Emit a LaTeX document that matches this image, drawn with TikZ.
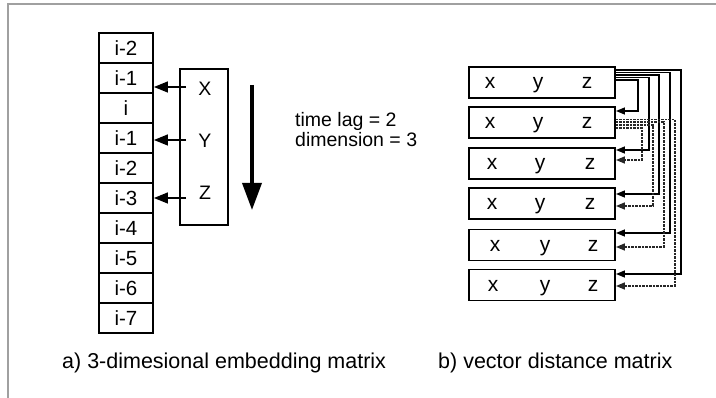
\documentclass[tikz,border=0pt]{standalone}
\usepackage{fontspec}
\setmainfont{Liberation Sans}
\usetikzlibrary{arrows.meta}
\definecolor{framegray}{HTML}{A0A0A0}
\begin{document}
\begin{tikzpicture}[x=1pt,y=-1pt,
  cell/.style={draw, line width=1.9pt, minimum width=54pt, minimum height=30pt, inner sep=0pt, font=\fontsize{20.5}{24}\selectfont},
  embbox/.style={draw, line width=1.6pt, minimum width=48pt, minimum height=156pt, inner sep=0pt},
  biglbl/.style={inner sep=0pt, font=\fontsize{19.5}{22}\selectfont},
  leftarr/.style={line width=1.4pt, -{Triangle[length=14pt,width=11pt]}},
  rbox/.style={draw, line width=1.9pt, minimum width=146pt, minimum height=31pt, inner sep=0pt},
  xyz/.style={inner sep=0pt, anchor=base, font=\fontsize{21}{24}\selectfont},
  conn/.style={line width=1.4pt, -{Triangle[length=9pt,width=7pt]}},
  dconn/.style={conn, draw=black!85, line width=1.6pt, dash pattern=on 2.5pt off 1pt},
  captext/.style={inner sep=0pt, anchor=base west, font=\fontsize{21.5}{26}\selectfont}
]
\useasboundingbox (0,0) rectangle (716,398);
\draw[framegray, line width=1.3pt] (8,398) -- (8,4) -- (716,4);

% left column
\foreach \t [count=\k] in {i-2,i-1,i,i-1,i-2,i-3,i-4,i-5,i-6,i-7}
  \node[cell] (c\k) at (126, 18+30*\k) {\t};

% embedding box
\node[embbox] (emb) at (204,147) {};
\node[biglbl] (X) at (205,89) {X};
\node[biglbl] (Y) at (205,141) {Y};
\node[biglbl] (Z) at (205,193) {Z};
\coordinate (ax) at (186,87);
\coordinate (ay) at (186,140);
\coordinate (az) at (186,198);
\draw[leftarr] (ax) -- (ax -| c2.east);
\draw[leftarr] (ay) -- (ay -| c4.east);
\draw[leftarr] (az) -- (az -| c6.east);

% big arrow
\coordinate (bt) at (252,85);
\coordinate (bb) at (252,210);
\draw[line width=3.6pt, -{Triangle[length=27pt,width=19pt]}] (bt) -- (bb);

\node[biglbl, anchor=base west] (tl) at (295,126.7) {time lag = 2};
\node[biglbl, anchor=base west] (dim) at (295,146.7) {dimension = 3};

% right boxes
\node[rbox] (r1) at (542,82.5) {};
\node[rbox] (r2) at (542,122.5) {};
\node[rbox] (r3) at (542,163.5) {};
\node[rbox] (r4) at (542,203.5) {};
\node[rbox] (r5) at (542,245) {};
\node[rbox] (r6) at (542,285) {};

\foreach \r/\a/\b/\c in {r1/-52/-4/45, r2/-52/-4/45, r3/-50/-2/48, r4/-50/-2/48, r5/-47/3/51, r6/-49/3/51}{
  \node[xyz] (\r x) at ([xshift=\a pt, yshift=-6.5pt]\r.center) {x};
  \node[xyz] (\r y) at ([xshift=\b pt, yshift=-6.5pt]\r.center) {y};
  \node[xyz] (\r z) at ([xshift=\c pt, yshift=-6.5pt]\r.center) {z};
}

% solid connectors from r1
\draw[conn] ([yshift=12.5pt]r1.east) -| ([xshift=65pt,yshift=11pt]r6.east) -- ([yshift=11pt]r6.east);
\draw[conn] ([yshift=10pt]r1.east) -| ([xshift=54pt,yshift=12pt]r5.east) -- ([yshift=12pt]r5.east);
\draw[conn] ([yshift=7.5pt]r1.east) -| ([xshift=43pt,yshift=9.5pt]r4.east) -- ([yshift=9.5pt]r4.east);
\draw[conn] ([yshift=5pt]r1.east) -| ([xshift=33pt,yshift=13.5pt]r3.east) -- ([yshift=13.5pt]r3.east);
\draw[conn] ([yshift=2.5pt]r1.east) -| ([xshift=22pt,yshift=11.5pt]r2.east) -- ([yshift=11.5pt]r2.east);

% dashed connectors from r2
\draw[dconn] ([yshift=3pt]r2.east) -| ([xshift=59pt,yshift=-1pt]r6.east) -- ([yshift=-1pt]r6.east);
\draw[dconn] ([yshift=0.5pt]r2.east) -| ([xshift=48pt,yshift=-2pt]r5.east) -- ([yshift=-2pt]r5.east);
\draw[dconn] ([yshift=-2.5pt]r2.east) -| ([xshift=37pt,yshift=-2.5pt]r4.east) -- ([yshift=-2.5pt]r4.east);
\draw[dconn] ([yshift=-5.5pt]r2.east) -| ([xshift=26pt,yshift=3.5pt]r3.east) -- ([yshift=3.5pt]r3.east);

% captions
\node[captext] (capa) at (62,369) {a) 3-dimesional embedding matrix};
\node[captext] (capb) at (438,369) {b) vector distance matrix};
\end{tikzpicture}
\end{document}
